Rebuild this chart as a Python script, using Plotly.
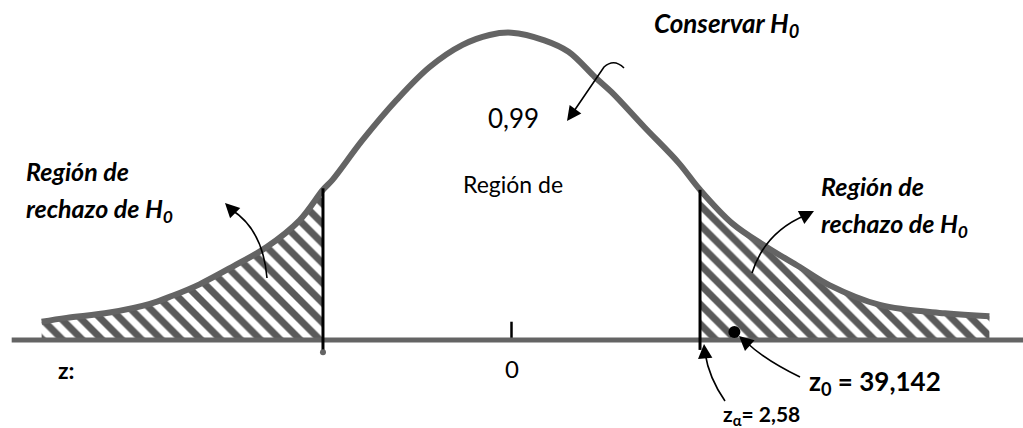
import plotly.graph_objects as go

W, H = 1023, 428

# curve: z position and height (density units)
z_curve = [-6.43, -6.09, -5.50, -4.96, -4.64, -4.27, -3.82, -3.35, -2.90, -2.58,
           -2.45, -2.04, -1.57, -1.12, -0.67, -0.30, 0.00, 0.45, 0.78, 1.14,
           1.37, 1.82, 2.29, 2.58, 3.02, 3.49, 3.94, 4.35, 5.04, 5.93, 6.54]
f_curve = [0.024, 0.029, 0.036, 0.047, 0.058, 0.073, 0.096, 0.122, 0.157, 0.197,
           0.210, 0.262, 0.315, 0.358, 0.387, 0.400, 0.403, 0.393, 0.378, 0.345,
           0.325, 0.279, 0.232, 0.197, 0.153, 0.122, 0.096, 0.072, 0.046, 0.035, 0.031]

z_crit = [-2.58, 2.58]          # critical values (drawn)
crit_top = [0.199, 0.197]
crit_bottom = [-0.016, -0.013]
z0_drawn = 3.05                 # z0 = 39,142 is drawn just past z_alpha
axis_ends = [-6.84, 7.0]

GRAY = "#646464"


def P(x, y):
    # pixel -> paper coordinates
    return x / W, 1 - y / H


fig = go.Figure()

# hatched rejection tails
hatch = dict(shape="\\", size=14, solidity=0.5, fgcolor="#5a5a5a",
             bgcolor="white", fgopacity=1)
left = [(z, f) for z, f in zip(z_curve, f_curve) if z <= z_crit[0]]
right = [(z, f) for z, f in zip(z_curve, f_curve) if z >= z_crit[1]]
for part in (left, right):
    fig.add_trace(go.Scatter(
        x=[p[0] for p in part], y=[p[1] for p in part], mode="lines",
        line=dict(width=0, shape="spline"), fill="tozeroy",
        fillcolor="white", fillpattern=hatch, hoverinfo="skip"))

# baseline
fig.add_trace(go.Scatter(x=axis_ends, y=[0, 0], mode="lines",
                         line=dict(color=GRAY, width=5)))

# density curve
fig.add_trace(go.Scatter(x=z_curve, y=f_curve, mode="lines",
                         line=dict(color=GRAY, width=6, shape="spline")))

# critical lines
for zc, top, bot in zip(z_crit, crit_top, crit_bottom):
    fig.add_trace(go.Scatter(x=[zc, zc], y=[bot, top], mode="lines",
                             line=dict(color="black", width=3)))
fig.add_trace(go.Scatter(x=[z_crit[0]], y=[crit_bottom[0]], mode="markers",
                         marker=dict(color=GRAY, size=6)))

# tick at 0
fig.add_trace(go.Scatter(x=[0, 0], y=[0.003, 0.024], mode="lines",
                         line=dict(color="black", width=2.5)))

# z0 point
fig.add_trace(go.Scatter(x=[z0_drawn], y=[0.0105], mode="markers",
                         marker=dict(color="black", size=12)))

FONT = "Lato"
anns = []


def label(text, x, y, size, xanchor="center", bold=True, italic=False):
    if italic:
        text = "<i>" + text + "</i>"
    if bold:
        text = "<b>" + text + "</b>"
    px, py = P(x, y)
    anns.append(dict(text=text, x=px, y=py, xref="paper", yref="paper",
                     xanchor=xanchor, yanchor="middle", showarrow=False,
                     font=dict(family=FONT, size=size, color="black")))


label("Conservar H<sub>0</sub>", 652, 24, 26, xanchor="left", italic=True)
label("0,99", 513, 118, 26, bold=False)
label("Región de", 513, 184, 23, bold=False)
label("Región de", 24, 171, 25, xanchor="left", italic=True)
label("rechazo de H<sub>0</sub>", 24, 210, 25, xanchor="left", italic=True)
label("Región de", 819, 186, 25, xanchor="left", italic=True)
label("rechazo de H<sub>0</sub>", 819, 225, 25, xanchor="left", italic=True)
label("z:", 56, 370, 23, xanchor="left")
label("0", 512, 368, 24, bold=False)
label("z<sub>0</sub> = 39,142", 807, 382, 26, xanchor="left")
label("z<sub>α</sub>= 2,58", 721, 415, 21, xanchor="left")

# curved arrows: body as path, head as short annotation arrow
shapes = []


def curve(pts, tip, back):
    (x0, y0), (cx, cy), (x1, y1) = pts
    a, b = P(x0, y0)
    c, d = P(cx, cy)
    e, f = P(x1, y1)
    shapes.append(dict(type="path", xref="paper", yref="paper",
                       path=f"M {a} {b} Q {c} {d} {e} {f}",
                       line=dict(color="black", width=1.6)))
    tx, ty = P(*tip)
    anns.append(dict(text="", x=tx, y=ty, xref="paper", yref="paper",
                     ax=back[0], ay=back[1], showarrow=True, arrowhead=2,
                     arrowsize=1.8, arrowwidth=1.6, arrowcolor="black", standoff=0))


# Conservar H0 (hook then down-left)
hx0, hy0 = P(624, 68)
hx1, hy1 = P(614, 58)
hx2, hy2 = P(604, 67)
hx3, hy3 = P(572, 114)
shapes.append(dict(type="path", xref="paper", yref="paper",
                   path=f"M {hx0} {hy0} Q {hx1} {hy1} {hx2} {hy2} L {hx3} {hy3}",
                   line=dict(color="black", width=1.6)))
tx, ty = P(567, 121)
anns.append(dict(text="", x=tx, y=ty, xref="paper", yref="paper", ax=8, ay=-11,
                 showarrow=True, arrowhead=2, arrowsize=1.8, arrowwidth=1.6,
                 arrowcolor="black", standoff=0))

curve([(267, 278), (263, 230), (232, 210)], (225, 203), (9, 9))
curve([(752, 273), (765, 232), (806, 215)], (814, 211), (-10, 5))
curve([(725, 401), (709, 378), (705, 353)], (704, 344), (1, 12))
curve([(800, 377), (765, 360), (746, 342)], (739, 336), (9, 8))

fig.update_layout(
    width=W, height=H, margin=dict(l=0, r=0, t=0, b=0),
    paper_bgcolor="white", plot_bgcolor="white", showlegend=False,
    xaxis=dict(range=[-7.0, 7.0], visible=False, fixedrange=True),
    yaxis=dict(range=[-0.1154, 0.4459], visible=False, fixedrange=True),
    annotations=anns, shapes=shapes,
)

fig.write_html("out.html", config={"displayModeBar": False},
               post_script="document.body.style.margin='0';")
